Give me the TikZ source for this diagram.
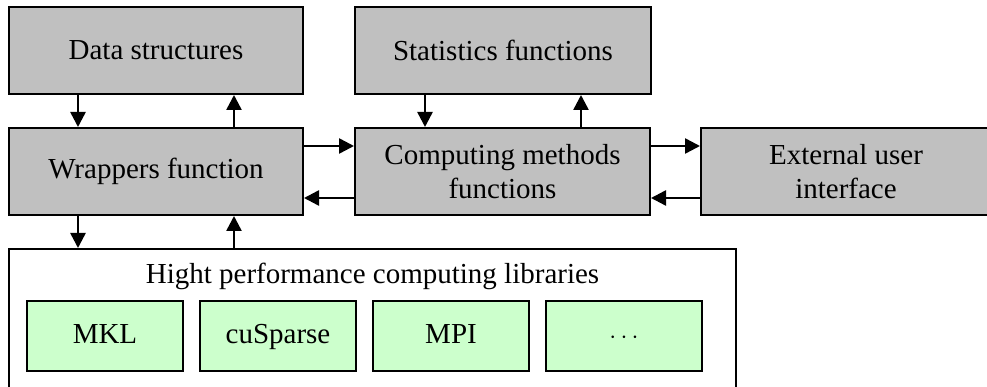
\documentclass[tikz,border=0pt]{standalone}
\usepackage{fontspec}
\setmainfont{Liberation Serif}
\usetikzlibrary{arrows.meta}
\definecolor{boxgrey}{RGB}{192,192,192}
\definecolor{libgreen}{RGB}{204,255,204}
\tikzset{
  txt/.style={font=\fontsize{29}{34}\selectfont},
  greybox/.style={txt, draw=black, line width=2pt, fill=boxgrey, align=center, inner sep=0pt},
  libbox/.style={txt, draw=black, line width=2pt, fill=libgreen, minimum width=156pt, minimum height=70pt,
    inner sep=0pt, text height=20pt, text depth=6pt},
  outerbox/.style={draw=black, line width=2pt, fill=white, inner sep=0pt},
  arr/.style={line width=2.5pt, -{Triangle[length=15pt,width=15pt]}}
}
\begin{document}
\begin{tikzpicture}[x=1pt,y=-1pt]
\useasboundingbox (0,0) rectangle (987,387);
\node[greybox, minimum width=294pt, minimum height=87pt] (ds) at (156,50.5) {Data structures};
\node[greybox, minimum width=296pt, minimum height=87pt] (st) at (503,50.5) {Statistics functions};
\node[greybox, minimum width=294pt, minimum height=87pt] (wr) at (156,171.5) {Wrappers function};
\node[greybox, minimum width=295pt, minimum height=87pt] (cm) at (502.5,171.5) {Computing methods\\functions};
\node[greybox, minimum width=290pt, minimum height=87pt] (ext) at (846,171.5) {External user\\interface};
\node[outerbox, minimum width=727pt, minimum height=150pt] (hpc) at (372.5,324) {};
\node[txt] (title) at (372.5,276) {Hight performance computing libraries};
\node[libbox] (mkl) at (105,336) {MKL};
\node[libbox] (cu) at (278,336) {cuSparse};
\node[libbox] (mpi) at (451,336) {MPI};
\node[libbox] (dots) at (624,336) {$\cdots$};
% vertical arrows
\draw[arr] ([xshift=-78pt]ds.south) -- ([xshift=-78pt]wr.north);
\draw[arr] ([xshift=78pt]wr.north) -- ([xshift=78pt]ds.south);
\draw[arr] ([xshift=-78pt]st.south) -- ([xshift=-77.5pt]cm.north);
\draw[arr] ([xshift=78.5pt]cm.north) -- ([xshift=78pt]st.south);
\draw[arr] ([xshift=-78pt]wr.south) -- ([xshift=-78pt]wr.south |- hpc.north);
\draw[arr] ([xshift=78pt]wr.south |- hpc.north) -- ([xshift=78pt]wr.south);
% horizontal arrows
\draw[arr] ([yshift=25.5pt]wr.east) -- ([yshift=25.5pt]cm.west);
\draw[arr] ([yshift=-26.5pt]cm.west) -- ([yshift=-26.5pt]wr.east);
\draw[arr] ([yshift=25.5pt]cm.east) -- ([yshift=25.5pt]ext.west);
\draw[arr] ([yshift=-26.5pt]ext.west) -- ([yshift=-26.5pt]cm.east);
\end{tikzpicture}
\end{document}
